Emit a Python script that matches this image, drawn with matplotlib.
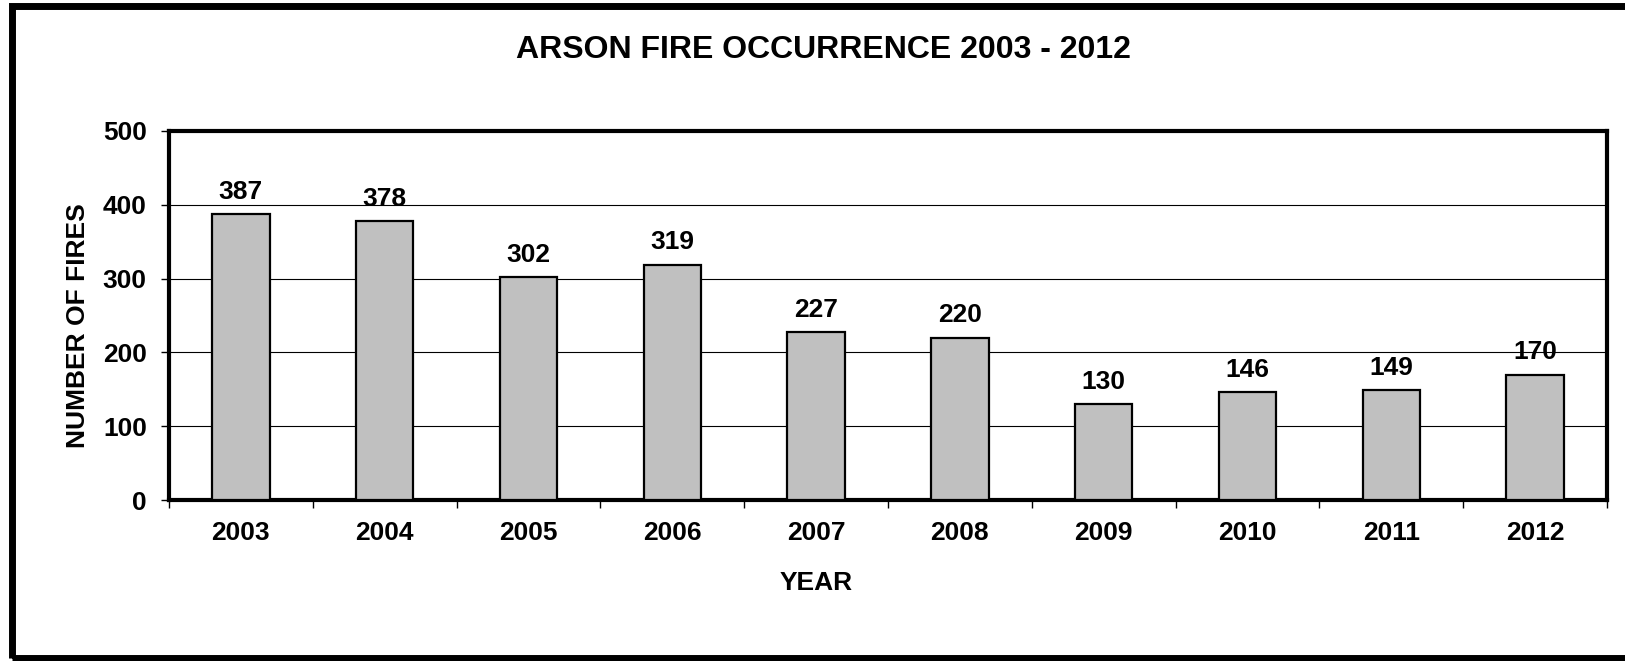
import numpy as np
import matplotlib.pyplot as plt
from matplotlib.patches import Rectangle

# === Data ===
years = ["2003", "2004", "2005", "2006", "2007", "2008", "2009", "2010", "2011", "2012"]
fires = [387, 378, 302, 319, 227, 220, 130, 146, 149, 170]
y_ticks = [0, 100, 200, 300, 400, 500]

plt.rcParams["font.family"] = ["Liberation Sans", "DejaVu Sans"]
plt.rcParams["font.weight"] = "bold"

fig = plt.figure(figsize=(16.25, 6.61), dpi=100)
ax = fig.add_axes([169 / 1625, 1 - 500 / 661, (1607 - 169) / 1625, (500 - 131) / 661])

x = np.arange(len(years))
ax.set_axisbelow(True)
ax.yaxis.grid(True, color="black", linewidth=0.8)
bars = ax.bar(x, fires, width=0.40, color="#C0C0C0", edgecolor="black", linewidth=1.6, zorder=3)

# value labels above the bars
for xi, v in zip(x, fires):
    ax.annotate(str(v), (xi, v), xytext=(0, 11), textcoords="offset points",
                ha="center", va="baseline", fontsize=19, fontweight="bold")

ax.set_xlim(-0.5, len(years) - 0.5)
ax.set_ylim(0, 500)
ax.set_yticks(y_ticks)
ax.set_yticklabels([str(t) for t in y_ticks], fontsize=19, fontweight="bold")
ax.set_xticks(x)
ax.set_xticklabels(years, fontsize=19, fontweight="bold")
ax.set_xticks(np.arange(-0.5, len(years)), minor=True)
ax.tick_params(axis="x", which="major", length=0, pad=15)
ax.tick_params(axis="x", which="minor", length=6, width=1, direction="out")
ax.tick_params(axis="y", length=6, width=1, direction="out", pad=10)

for s in ax.spines.values():
    s.set_linewidth(3)
    s.set_color("black")

ax.set_xlabel("YEAR", fontsize=19, fontweight="bold")
ax.xaxis.label.set_va("center")
ax.xaxis.set_label_coords(0.45, -0.225)
ax.set_ylabel("NUMBER OF FIRES", fontsize=19, fontweight="bold")
ax.yaxis.label.set_va("center")
ax.yaxis.set_label_coords(-0.0633, 0.4715)

fig.text(823 / 1625, 1 - 50 / 661, "ARSON FIRE OCCURRENCE 2003 - 2012",
         ha="center", va="center", fontsize=23, fontweight="bold")

# outer frame (right edge runs off the image)
frame = Rectangle((11.5 / 1625, 3 / 661), 1.2, 1 - 8.5 / 661, transform=fig.transFigure,
                  fill=False, edgecolor="black", linewidth=5, clip_on=False)
fig.patches.append(frame)

plt.savefig("out.png", dpi=100)
